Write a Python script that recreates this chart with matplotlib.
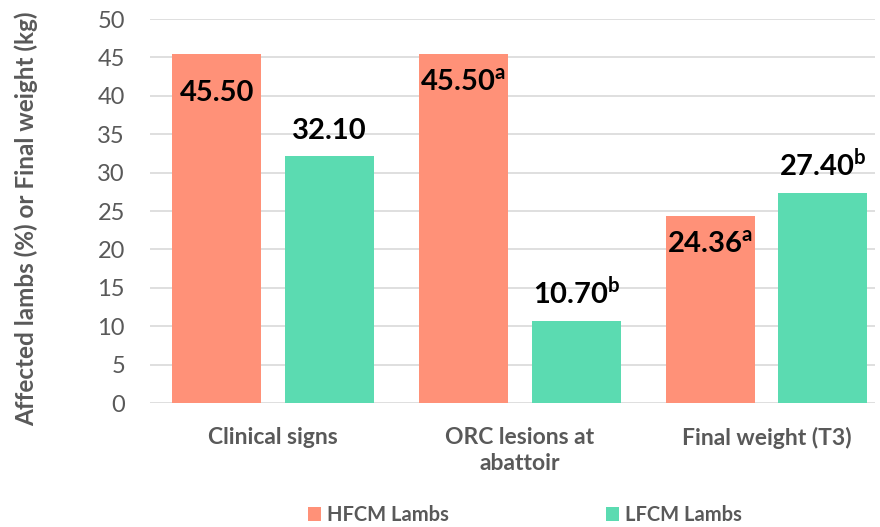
import matplotlib
matplotlib.use("Agg")
import matplotlib.pyplot as plt
import numpy as np

# Data
categories = ["Clinical signs", "ORC lesions at\nabattoir", "Final weight (T3)"]
series_names = ["HFCM Lambs", "LFCM Lambs"]
hfcm = [45.50, 45.50, 24.36]
lfcm = [32.10, 10.70, 27.40]
hfcm_sup = ["", "a", "a"]
lfcm_sup = ["", "b", "b"]
yticks = [0, 5, 10, 15, 20, 25, 30, 35, 40, 45, 50]

plt.rcParams["font.family"] = ["Lato", "DejaVu Sans"]
plt.rcParams["mathtext.fontset"] = "custom"
plt.rcParams["mathtext.rm"] = "Lato:bold"

c_h = "#FF9178"
c_l = "#5BDBB1"
grey = "#595959"

fig = plt.figure(figsize=(8.8, 5.27), dpi=100)
ax = fig.add_axes([150 / 880, 1 - 403 / 527, 725 / 880, 384 / 527])

x = np.arange(len(categories))
w = 0.361
off = 0.229
ax.bar(x - off, hfcm, w, color=c_h, label=series_names[0], zorder=3)
ax.bar(x + off, lfcm, w, color=c_l, label=series_names[1], zorder=3)


def label(xp, val, sup, inside):
    txt = f"{val:.2f}" + (f"$^{{\\mathrm{{{sup}}}}}$" if sup else "")
    if inside:
        dy = -(37 if sup else 47) * 0.72
    else:
        dy = 17 * 0.72
    ax.annotate(txt, (xp, val), xytext=(0, dy), textcoords="offset points",
                ha="center", va="baseline", fontsize=21, fontweight="bold",
                color="black", zorder=4)


for i in range(len(categories)):
    label(x[i] - off, hfcm[i], hfcm_sup[i], True)
    label(x[i] + off, lfcm[i], lfcm_sup[i], False)

ax.set_ylim(0, 50)
ax.set_xlim(-0.5, 2.44)
ax.set_yticks(yticks)
ax.yaxis.grid(True, color="#d9d9d9", linewidth=1.2, zorder=0)
ax.set_axisbelow(True)
for s in ax.spines.values():
    s.set_visible(False)
ax.tick_params(axis="both", length=0)
ax.tick_params(axis="y", labelsize=17, labelcolor=grey, pad=18)
ax.set_xticks(x)
ax.set_xticklabels(categories, fontsize=16.5, fontweight="bold", color=grey,
                   linespacing=1.3)
ax.tick_params(axis="x", pad=17)
ax.set_ylabel("Affected lambs (%) or Final weight (kg)", fontsize=17.5,
              fontweight="bold", color=grey)
ax.yaxis.set_label_coords((38 - 150) / 725, (403 - 219) / 384)

leg = fig.legend(loc="center", bbox_to_anchor=(525 / 880, 1 - 515 / 527),
                 ncol=2, frameon=False, fontsize=14.5, handlelength=0.65,
                 handleheight=0.65, handletextpad=0.3, columnspacing=7.8)
for t in leg.get_texts():
    t.set_color(grey)
    t.set_fontweight("bold")

fig.savefig("out.png", dpi=100)
